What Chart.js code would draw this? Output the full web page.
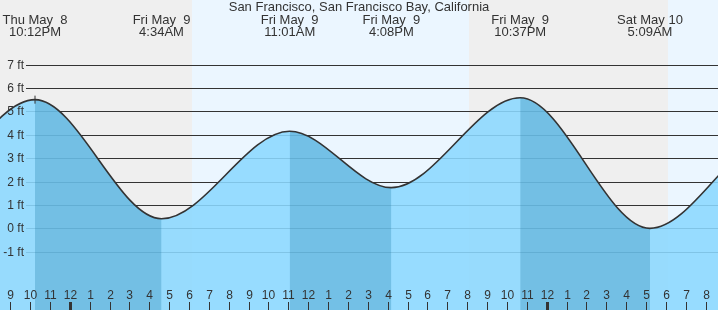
<!DOCTYPE html>
<html><head><meta charset="utf-8">
<script src="https://cdn.jsdelivr.net/npm/chart.js@4/dist/chart.umd.min.js"></script>
<style>html,body{margin:0;padding:0;background:#efefef;overflow:hidden}</style>
</head><body>
<canvas id="c" width="718" height="310" style="display:block;width:718px;height:310px"></canvas>
<script>
const title = "San Francisco, San Francisco Bay, California";
// hours counted from Thu May 8 00:00
const eventHours = [22.2, 28.567, 35.017, 40.133, 46.617, 53.15];
const eventHeights = [5.5, 0.41, 4.15, 1.74, 5.58, 0.0];
const eventDays = ["Thu May  8", "Fri May  9", "Fri May  9", "Fri May  9", "Fri May  9", "Sat May 10"];
const eventTimes = ["10:12PM", "4:34AM", "11:01AM", "4:08PM", "10:37PM", "5:09AM"];
// tide extremes outside the visible window (estimated, shape the curve at the edges)
const beforeHours = [9.0, 15.75];
const beforeHeights = [3.9, 1.2];
const afterHours = [59.5, 66.2];
const afterHeights = [4.0, 1.9];
// sunrise Fri, sunset Fri, sunrise Sat
const sunHours = [30.083, 44.05, 54.067];
const tickHours = [21,22,23,24,25,26,27,28,29,30,31,32,33,34,35,36,37,38,39,40,41,42,43,44,45,46,47,48,49,50,51,52,53,54,55,56];
const tickLabels = ["9","10","11","12","1","2","3","4","5","6","7","8","9","10","11","12","1","2","3","4","5","6","7","8","9","10","11","12","1","2","3","4","5","6","7","8"];
const midnightHours = [24, 48];
const yTicks = [-1, 0, 1, 2, 3, 4, 5, 6, 7];
const yTickLabels = ["-1 ft", "0 ft", "1 ft", "2 ft", "3 ft", "4 ft", "5 ft", "6 ft", "7 ft"];

const LIGHT = 'rgba(139,216,255,0.88)';
const OVERLAY = 'rgba(6,108,155,0.25)';
const NONE = 'rgba(0,0,0,0)';
const TXT = '#333';
const FONT = '"Liberation Sans", Arial, sans-serif';

const tideHours = [...beforeHours, ...eventHours, ...afterHours];
const tideHeights = [...beforeHeights, ...eventHeights, ...afterHeights];
const tidePoints = () => tideHours.map((h, i) => ({x: h, y: tideHeights[i]}));

const deco = {
  id: 'deco',
  beforeDraw(chart) {
    const {ctx, width, height} = chart;
    const x = chart.scales.x, y = chart.scales.y;
    ctx.save();
    ctx.fillStyle = '#efefef';
    ctx.fillRect(0, 0, width, height);
    ctx.fillStyle = '#ebf6ff';
    const xs = sunHours.map(h => Math.round(x.getPixelForValue(h)));
    ctx.fillRect(xs[0], 0, xs[1] - xs[0], height);
    ctx.fillRect(xs[2], 0, width - xs[2], height);
    ctx.strokeStyle = '#333';
    ctx.lineWidth = 1;
    yTicks.forEach(v => {
      const py = Math.round(y.getPixelForValue(v)) + 0.5;
      ctx.beginPath(); ctx.moveTo(26, py); ctx.lineTo(width, py); ctx.stroke();
    });
    ctx.restore();
  },
  afterDatasetsDraw(chart) {
    const {ctx, width, height} = chart;
    const x = chart.scales.x, y = chart.scales.y;
    ctx.save();
    ctx.fillStyle = TXT;
    ctx.font = '12px ' + FONT;
    ctx.textAlign = 'right'; ctx.textBaseline = 'middle';
    yTicks.forEach((v, i) => {
      ctx.fillText(yTickLabels[i], 24, Math.round(y.getPixelForValue(v)) + 0.5);
    });
    ctx.textAlign = 'center';
    ctx.strokeStyle = TXT;
    tickHours.forEach((h, i) => {
      const px = Math.round(x.getPixelForValue(h)) - 1;
      ctx.fillText(tickLabels[i], px + 0.5, 296);
      const thick = midnightHours.includes(h);
      ctx.lineWidth = thick ? 3 : 1;
      ctx.beginPath(); ctx.moveTo(px + 0.5, 302); ctx.lineTo(px + 0.5, height); ctx.stroke();
    });
    ctx.font = '13px ' + FONT;
    ctx.fillText(title, width / 2, 7);
    eventHours.forEach((h, i) => {
      const px = x.getPixelForValue(h);
      ctx.fillText(eventDays[i], px, 20);
      ctx.fillText(eventTimes[i], px, 32);
    });
    ctx.restore();
  }
};

new Chart(document.getElementById('c'), {
  type: 'line',
  data: {
    datasets: [
      {
        data: [{x: eventHours[0], y: eventHeights[0]}],
        showLine: false,
        pointStyle: 'cross',
        pointRadius: 4,
        pointHoverRadius: 4,
        pointBorderColor: '#333',
        pointBorderWidth: 1,
        fill: false
      },
      {
        data: tidePoints(),
        borderWidth: 0,
        borderColor: NONE,
        pointRadius: 0,
        cubicInterpolationMode: 'monotone',
        fill: 'start',
        backgroundColor: NONE,
        segment: {
          backgroundColor: c => (c.p0.parsed.y > c.p1.parsed.y ? OVERLAY : NONE)
        }
      },
      {
        data: tidePoints(),
        borderColor: '#333',
        borderWidth: 1.6,
        pointRadius: 0,
        cubicInterpolationMode: 'monotone',
        fill: 'start',
        backgroundColor: LIGHT
      }
    ]
  },
  options: {
    responsive: false,
    devicePixelRatio: 1,
    animation: false,
    layout: {padding: 0, autoPadding: false},
    plugins: {
      legend: {display: false},
      tooltip: {enabled: false},
      filler: {drawTime: 'beforeDatasetsDraw'}
    },
    scales: {
      x: {type: 'linear', min: 20.4386, max: 56.572, display: false},
      y: {type: 'linear', min: -3.49, max: 9.76, display: false}
    }
  },
  plugins: [deco]
});
</script>
</body></html>
